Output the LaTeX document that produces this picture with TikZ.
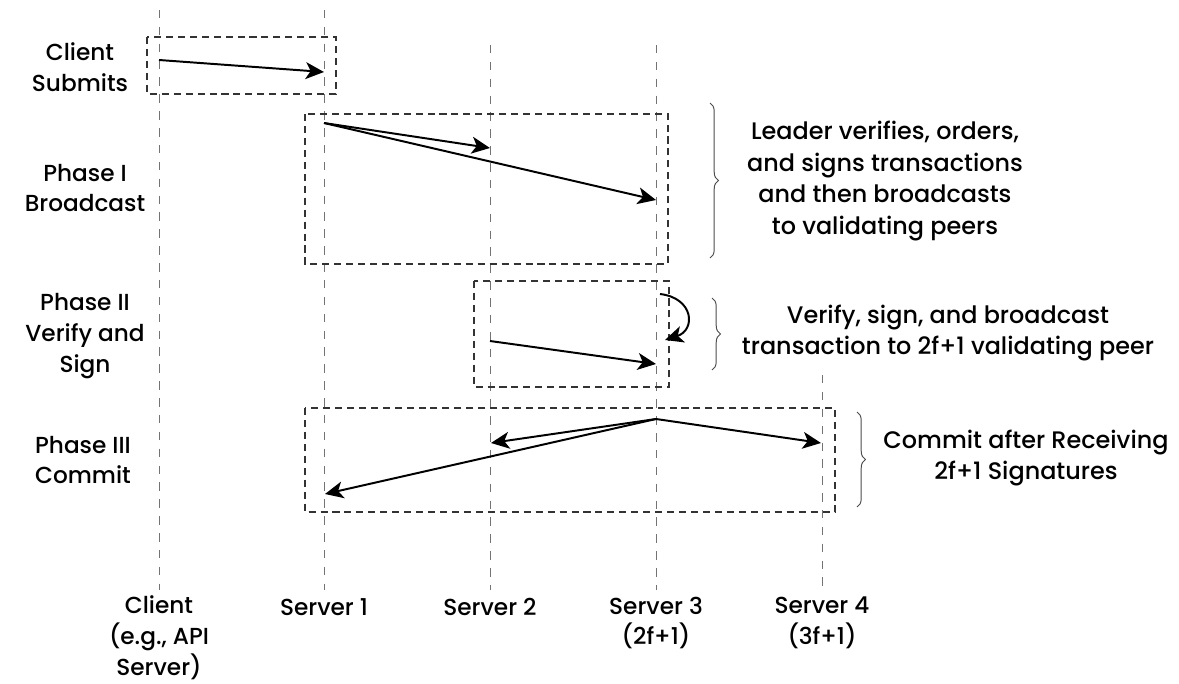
\documentclass[tikz,border=0pt]{standalone}
\usepackage{fontspec}
\setmainfont{Poppins Medium}
\usetikzlibrary{arrows.meta,decorations.pathreplacing}

\begin{document}
\begin{tikzpicture}[x=0.025cm, y=-0.025cm,
    lifeline/.style={draw=black!55, line width=0.6pt, dash pattern=on 6pt off 6pt},
    phasebox/.style={draw=black!80, line width=1.2pt, dash pattern=on 5pt off 3.5pt},
    msg/.style={-{Stealth[length=13pt,width=12pt,inset=3.5pt]}, line width=1.4pt},
    phaselabel/.style={align=center, inner sep=0pt, font=\fontsize{16.5}{22}\selectfont},
    note/.style={align=center, inner sep=0pt, font=\fontsize{17}{22.5}\selectfont},
    bracket/.style={draw=black!70, line width=0.7pt, decorate, decoration={brace, amplitude=6pt}}]
% \draw[help lines] (0,0) grid[step=50] (1179,684);
\useasboundingbox (0,0) rectangle (1179,684);

    \def\lifebot{590}

    % lifelines: name / x / where the line starts
    \foreach \name/\x/\top in {cl/159/10, sa/324/10, sb/490/45, sc/656/45, sd/822/375}{
        \coordinate (\name top) at (\x,\top);
        \coordinate (\name bot) at (\x,\lifebot);
        \draw[lifeline] (\name top) -- (\name bot);
    }

    % names under the lifelines
    \node[phaselabel] (cllbl) at (159,638) {Client\\(e.g., API\\Server)};
    \node[phaselabel] (salbl) at (324,607) {Server 1};
    \node[phaselabel] (sblbl) at (490,607) {Server 2};
    \node[phaselabel] (sclbl) at (656,623) {Server 3\\(2f+1)};
    \node[phaselabel] (sdlbl) at (822,623) {Server 4\\(3f+1)};

    % phase names on the left
    \node[phaselabel] (submits) at (80,67) {Client\\Submits};
    \node[phaselabel] (phasea) at (85,188) {Phase I\\Broadcast};
    \node[phaselabel] (phaseb) at (85,336) {Phase II\\Verify and\\Sign};
    \node[phaselabel] (phasec) at (83,460) {Phase III\\Commit};

    % dashed boxes round each phase
    \draw[phasebox] (147,37) rectangle (336,94);
    \draw[phasebox] (305,114) rectangle (668,264);
    \draw[phasebox] (474,281) rectangle (669,387);
    \draw[phasebox] (305,408) rectangle (835,512);

    % message end points
    \coordinate (csend) at (159,60);
    \coordinate (crecv) at (324,72);
    \coordinate (lead) at (324,123);
    \coordinate (brb) at (490,148);
    \coordinate (brc) at (656,200);
    \coordinate (vfb) at (490,341);
    \coordinate (vfc) at (656,364);
    \coordinate (selfa) at (660,294);
    \coordinate (selfb) at (665,340);
    \coordinate (cmt) at (656,419);
    \coordinate (cma) at (325,494);
    \coordinate (cmb) at (491,443);
    \coordinate (cmd) at (821,443);

    \draw[msg] (csend) -- (crecv);
    \foreach \to in {brb, brc}
        \draw[msg] (lead) -- (\to);
    \draw[msg] (vfb) -- (vfc);
    \draw[msg] (selfa) .. controls (694,298) and (696,330) .. (selfb);
    \foreach \to in {cma, cmb, cmd}
        \draw[msg] (cmt) -- (\to);

    % braces and what each phase does
    \draw[bracket] (710,103) -- (710,258);
    \draw[bracket] (712,298) -- (712,370);
    \draw[bracket] (857,412) -- (857,507);

    \node[note] (leader) at (885,181) {Leader verifies, orders,\\and signs transactions\\and then broadcasts\\to validating peers};
    \node[note] (verify) at (948,333) {Verify, sign, and broadcast\\transaction to 2f+1 validating peer};
    \node[note] (commit) at (1026,458) {Commit after Receiving\\2f+1 Signatures};
\end{tikzpicture}
\end{document}
